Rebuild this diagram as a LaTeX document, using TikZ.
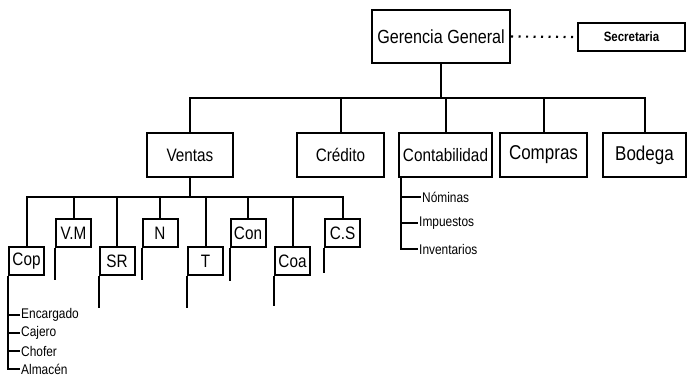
\documentclass[tikz,border=0pt]{standalone}
\usepackage{fontspec}
\setmainfont[FakeStretch=0.85]{Liberation Sans}
\usepackage{tikz}
\usetikzlibrary{positioning}
\tikzstyle{jefe} = [rectangle, draw=black, line width=2pt, text centered, inner sep=0pt]
\tikzstyle{depto} = [jefe, minimum height=44pt, font=\fontsize{18}{20}\selectfont]
\tikzstyle{puesto} = [jefe, minimum width=35pt, minimum height=28pt, font=\fontsize{18}{20}\selectfont]
\tikzstyle{tarea} = [anchor=west, inner sep=1pt, font=\fontsize{14}{15}\selectfont]
\tikzstyle{linea} = [line width=2pt]
\tikzstyle{punteado} = [line width=2.2pt, dash pattern=on 2pt off 5.5pt]

\begin{document}
\begin{tikzpicture}[x=1pt, y=-1pt]
        \useasboundingbox (0,0) rectangle (691,377);
        \node (gg) [jefe, minimum width=138pt, minimum height=53pt, font=\fontsize{19}{21}\selectfont] at (441,36.5) {Gerencia General};
        \node (sec) [jefe, minimum width=107pt, minimum height=28pt, font=\bfseries\fontsize{13.5}{15}\selectfont] at (631.5,37) {Secretaria};
        \draw [punteado] (gg.east) -- (sec.west);
        % departamentos
        \node (ventas) [depto, minimum width=86pt] at (190,155) {Ventas};
        \node (credito) [depto, minimum width=87pt] at (340.5,155) {Crédito};
        \node (conta) [depto, minimum width=93pt] at (445.5,155) {Contabilidad};
        \node (compras) [depto, minimum width=87pt, font=\fontsize{20}{22}\selectfont] at (543.5,155) {Compras};
        \node (bodega) [depto, minimum width=83pt, font=\fontsize{20}{22}\selectfont] at (644.5,155) {Bodega};
        \coordinate (bus) at (441,98);
        \draw [linea] (gg.south) -- (bus);
        \foreach \n in {ventas,credito,conta,compras,bodega}
            \draw [linea] (bus) -| (\n.north);
        % ventas
        \node (cop) [puesto] at (26.5,261) {Cop};
        \node (vm) [puesto] at (73.5,233) {V.M};
        \node (sr) [puesto] at (117,261) {SR};
        \node (n) [puesto] at (160,233) {N};
        \node (t) [puesto] at (205.5,261) {T};
        \node (con) [puesto] at (248,233) {Con};
        \node (coa) [puesto] at (292.5,261) {Coa};
        \node (cs) [puesto] at (342.5,233) {C.S};
        \coordinate (busv) at (190,197);
        \draw [linea] (ventas.south) -- (busv);
        \foreach \n in {cop,vm,sr,n,t,con,coa,cs}
            \draw [linea] (busv) -| (\n.north);
        \foreach \n/\l in {vm/32,sr/32,n/32,t/32,con/33,coa/30,cs/25}
            \draw [linea] (\n.south west) -- ++(0,\l);
        %
        \node (enc) [tarea] at (20,315) {Encargado};
        \node (caj) [tarea] at (20,333) {Cajero};
        \node (cho) [tarea] at (20,351) {Chofer};
        \node (alm) [tarea] at (20,369) {Almacén};
        \draw [linea] (cop.south west) |- (alm.west);
        \foreach \n in {enc,caj,cho}
            \draw [linea] (cop.south west |- \n.west) -- (\n.west);
        % contabilidad
        \coordinate (cl) at ([xshift=3pt]conta.south west);
        \node (nom) [tarea] at (421,197) {Nóminas};
        \node (imp) [tarea] at (418,223) {Impuestos};
        \node (inv) [tarea] at (418,249) {Inventarios};
        \draw [linea] (cl) |- (inv.west);
        \foreach \n in {nom,imp}
            \draw [linea] (cl |- \n.west) -- (\n.west);
    \end{tikzpicture}
\end{document}
